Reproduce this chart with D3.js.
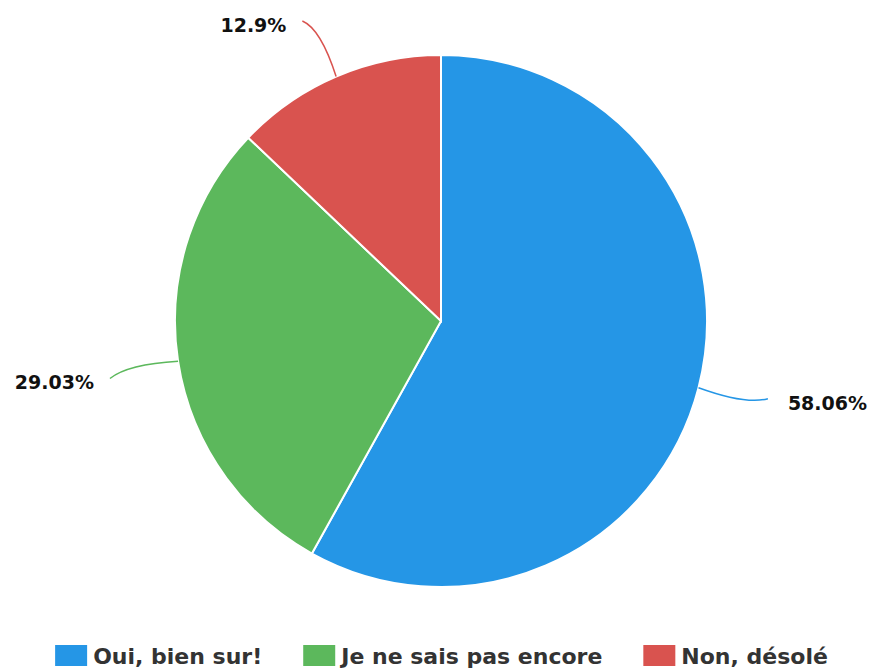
<!DOCTYPE html>
<html>
<head>
<meta charset="utf-8">
<script src="https://cdn.jsdelivr.net/npm/d3@7"></script>
<style>
  body { margin: 0; background: #fff; }
  text { font-family: "DejaVu Sans", Verdana, sans-serif; font-weight: bold; }
</style>
</head>
<body>
<div id="chart"></div>
<script>
const labels = ["Oui, bien sur!", "Je ne sais pas encore", "Non, désolé"];
const values = [58.06, 29.03, 12.9];
const colors = ["#2596e6", "#5cb85c", "#d9534f"];

const w = 875, h = 672;
const cx = 441, cy = 321, r = 266;

const svg = d3.select('#chart').append('svg')
  .attr('width', w).attr('height', h);

const data = labels.map((l, i) => ({ label: l, value: values[i], color: colors[i] }));
const pie = d3.pie().sort(null).value(d => d.value);
const arcs = pie(data);
const arc = d3.arc().innerRadius(0).outerRadius(r);

const g = svg.append('g').attr('transform', 'translate(' + cx + ',' + cy + ')');

// slices
g.selectAll('path.slice')
  .data(arcs)
  .enter()
  .append('path')
  .attr('class', 'slice')
  .attr('d', arc)
  .attr('fill', d => d.data.color)
  .attr('stroke', '#fff')
  .attr('stroke-width', 2);

function polar(a, rad) {
  return [Math.sin(a) * rad, -Math.cos(a) * rad];
}
// end of leader line, kept inside the top of the svg
function lineEnd(d) {
  const a = (d.startAngle + d.endAngle) / 2;
  const p = polar(a - 0.02, r + 70);
  p[1] = Math.max(p[1], 21 - cy);
  return p;
}

// leader lines
g.selectAll('path.leader')
  .data(arcs)
  .enter()
  .append('path')
  .attr('class', 'leader')
  .attr('fill', 'none')
  .attr('stroke', d => d.data.color)
  .attr('stroke-width', 1.5)
  .attr('d', d => {
    const a = (d.startAngle + d.endAngle) / 2;
    const p0 = polar(a, r);
    const c = polar(a + 0.015, r + 50);
    const p1 = lineEnd(d);
    return 'M' + p0 + 'Q' + c + ' ' + p1;
  });

// labels
g.selectAll('text.lbl')
  .data(arcs)
  .enter()
  .append('text')
  .attr('class', 'lbl')
  .each(function(d) {
    const a = (d.startAngle + d.endAngle) / 2;
    const p = lineEnd(d);
    const right = Math.sin(a) > 0;
    d3.select(this)
      .attr('x', right ? p[0] + 20 : p[0] - 16)
      .attr('y', p[1] + 11)
      .attr('text-anchor', right ? 'start' : 'end');
  })
  .attr('font-size', 19)
  .attr('fill', '#111')
  .text(d => d.data.value + '%');

// legend
const legend = svg.append('g');
const items = legend.selectAll('g.item')
  .data(data)
  .enter()
  .append('g')
  .attr('class', 'item');

items.append('rect')
  .attr('width', 32).attr('height', 21)
  .attr('fill', d => d.color);

items.append('text')
  .attr('x', 38).attr('y', 19)
  .attr('font-size', 22)
  .attr('fill', '#333')
  .text(d => d.label);

let xPos = 0;
items.each(function() {
  const bw = this.getBBox().width;
  d3.select(this).attr('transform', 'translate(' + xPos + ',0)');
  xPos += bw + 41;
});
const total = xPos - 41;
legend.attr('transform', 'translate(' + ((w - total) / 2 + 4) + ',645)');
</script>
</body>
</html>
